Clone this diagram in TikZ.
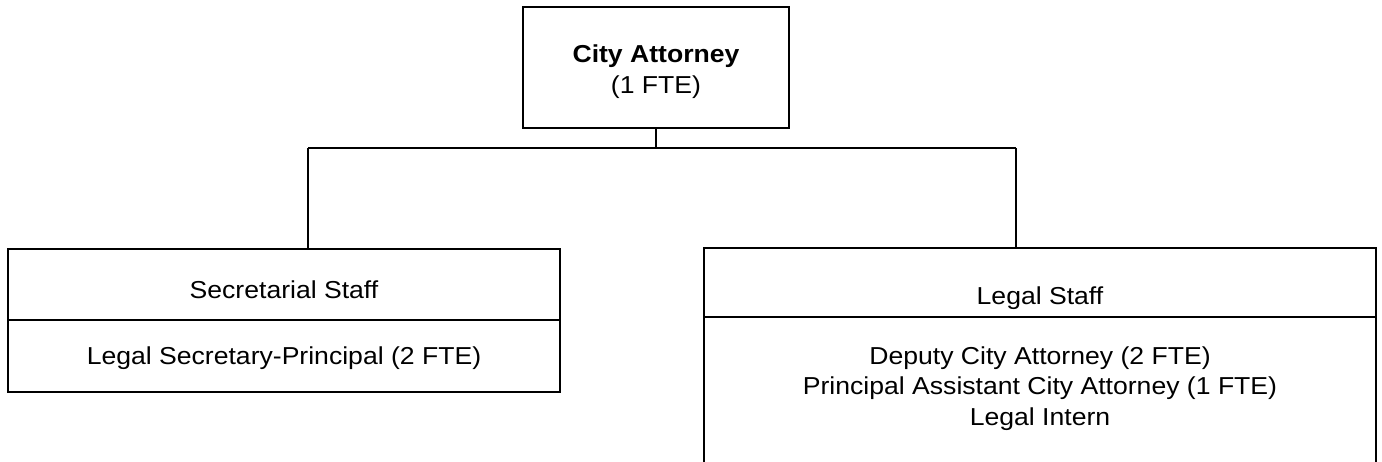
\documentclass[tikz,border=0pt]{standalone}
\usepackage{fontspec}
\setmainfont{Liberation Sans}[FakeStretch=1.085]
\begin{document}
\begin{tikzpicture}[x=1pt,y=-1pt,
  box/.style={draw=black, line width=2.6pt, rectangle, inner sep=0pt, fill=none},
  lbl/.style={anchor=base, inner sep=0pt, font=\fontsize{24.5}{29}\selectfont},
  conn/.style={draw=black, line width=2.6pt}]
\fill[white] (0,0) rectangle (1382,462);
\clip (0,0) rectangle (1382,462);
% boxes
\node[box, minimum width=266pt, minimum height=121pt] (ca) at (656,67.5) {};
\node[box, minimum width=552pt, minimum height=71pt] (sst) at (284,284.5) {};
\node[box, minimum width=552pt, minimum height=72pt] (ssb) at (284,356) {};
\node[box, minimum width=672pt, minimum height=69pt] (lst) at (1040,282.5) {};
\node[box, minimum width=672pt, minimum height=183pt] (lsb) at (1040,408.5) {};
% texts
\node[lbl, font=\fontsize{24.5}{29}\selectfont\bfseries] (t1) at (656,63) {City Attorney};
\node[lbl] (t2) at (656,94) {(1 FTE)};
\node[lbl] (t3) at (284,299) {Secretarial Staff};
\node[lbl] (t4) at (284,365) {Legal Secretary-Principal (2 FTE)};
\node[lbl] (t5) at (1040,305) {Legal Staff};
\node[lbl] (t6) at (1040,365) {Deputy City Attorney (2 FTE)};
\node[lbl] (t7) at (1040,395) {Principal Assistant City Attorney (1 FTE)};
\node[lbl] (t8) at (1040,425) {Legal Intern};
% connectors
\coordinate (jl) at (308,148);
\coordinate (jr) at (1016,148);
\draw[conn] (ca.south) -- (ca.south |- jl);
\draw[conn] (jl) -- (jr);
\draw[conn] (jl) -- (jl |- sst.north);
\draw[conn] (jr) -- (jr |- lst.north);
\end{tikzpicture}
\end{document}
